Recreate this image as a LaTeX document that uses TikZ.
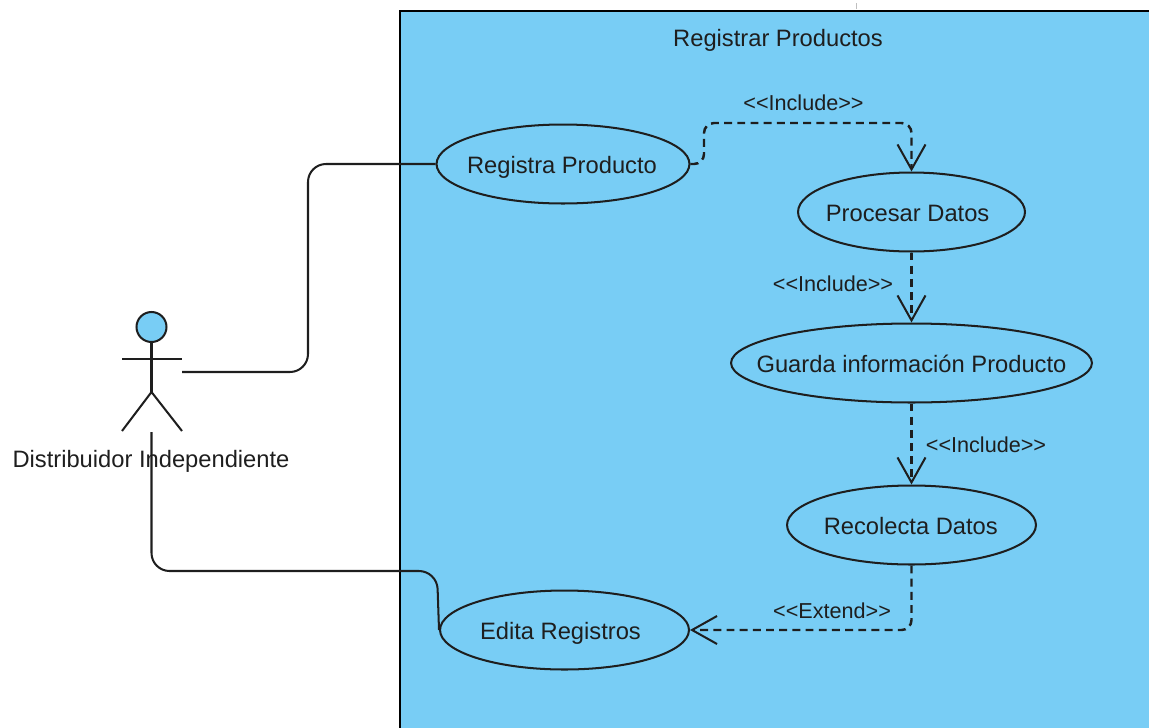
\documentclass[tikz,border=0pt]{standalone}
\usepackage{fontspec}
\setmainfont{Liberation Sans}
\usepackage{xcolor}
\usetikzlibrary{shapes.geometric,arrows.meta}

\definecolor{sysblue}{RGB}{120,205,245}
\definecolor{inkgrey}{RGB}{30,30,30}

\newcommand{\stereotype}[1]{<\kern0pt<#1>\kern0pt>}
\newcommand{\casetext}[2][0pt]{\hspace*{#1}\makebox[0pt]{#2}\hspace*{-#1}}

\tikzset{
  labeltext/.style={text=inkgrey,inner sep=0pt,text height=9.7pt,text depth=0pt,font=\fontsize{13.5}{16}\selectfont},
  usecase/.style={labeltext,text height=10.8pt,draw=inkgrey,ellipse,line width=1.15pt,minimum height=1.58cm},
  stereo/.style={text=inkgrey,inner sep=0pt,text height=8.8pt,text depth=0pt,font=\fontsize{12.3}{15}\selectfont},
  assoc/.style={draw=inkgrey,line width=1.15pt,rounded corners=0.36cm},
  depend/.style={draw=inkgrey,line width=1.4pt,dash pattern=on 4.5pt off 3pt,rounded corners=0.2cm,-{Straight Barb[length=0.5cm,width=0.56cm,line width=1.15pt]}}
}

\begin{document}
\begin{tikzpicture}[x=0.02cm,y=-0.02cm]
  \useasboundingbox (0,0) rectangle (1149,727);
  \clip (0,0) rectangle (1149,727);

  % System frame
  \draw[black,fill=sysblue,line width=1.15pt] (400,11) rectangle (1170,750);
  \draw[black!25,line width=0.5pt] (856,3) -- (856,9);
  \node[labeltext] (title) at (778,38) {Registrar Productos};

  % Use cases
  \node[usecase,minimum width=5.06cm] (registra) at (563,164) {\casetext[-0.6pt]{Registra Producto}};
  \node[usecase,minimum width=4.54cm] (procesar) at (911.5,212) {\casetext[-2.2pt]{Procesar Datos}};
  \node[usecase,minimum width=7.22cm] (guarda) at (911.5,363) {\casetext{Guarda información Producto}};
  \node[usecase,minimum width=4.98cm] (recolecta) at (911.5,525) {\casetext[-0.4pt]{Recolecta Datos}};
  \node[usecase,minimum width=4.98cm] (edita) at (564.5,630) {\casetext[-2.3pt]{Edita Registros}};

  % Actor
  \node[draw=inkgrey,fill=sysblue,circle,line width=1.15pt,minimum size=0.6cm,inner sep=0pt] (head) at (151.5,327) {};
  \coordinate (hip) at (151.5,392);
  \coordinate (armL) at (122,359);
  \coordinate (armR) at (182,359);
  \coordinate (legL) at (122,431);
  \coordinate (legR) at (182,431);
  \draw[inkgrey,line width=1.15pt] (head.south) -- (hip);
  \draw[inkgrey,line width=1.15pt] (armL) -- (armR);
  \draw[inkgrey,line width=1.15pt] (legL) -- (hip) -- (legR);
  \node[labeltext] (actor) at (151,459) {Distribuidor Independiente};

  % Associations
  \coordinate (actorR) at (182,372);
  \coordinate (actorB) at (151.5,432);
  \draw[assoc] (actorR) -- (308,372) -- (308,164) -- (registra.west);
  \draw[assoc] (actorB) -- (151.5,571) -- (437,571) -- (edita.west);

  % Dependencies
  \draw[depend] (registra.east) -- (704,164) -- (704,123) -- (911.5,123) -- (procesar.north);
  \draw[depend] (procesar.south) -- (guarda.north);
  \draw[depend] (guarda.south) -- (recolecta.north);
  \draw[depend] (recolecta.south) -- (911.5,630) -- (edita.east);

  % Stereotypes
  \node[stereo] (inc1) at (803.5,103) {\stereotype{Include}};
  \node[stereo] (inc2) at (833,284) {\stereotype{Include}};
  \node[stereo] (inc3) at (986,445) {\stereotype{Include}};
  \node[stereo] (ext) at (832,611) {\stereotype{Extend}};
\end{tikzpicture}
\end{document}
